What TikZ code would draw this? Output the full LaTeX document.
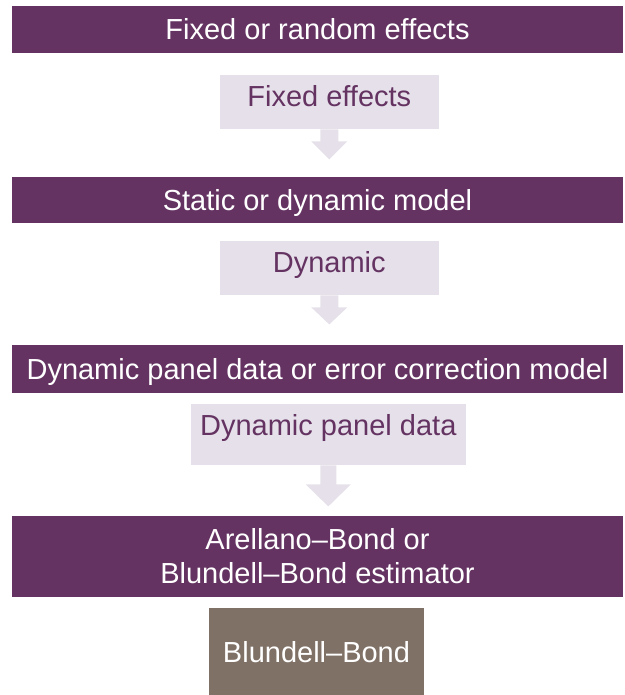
\documentclass[tikz,border=0pt]{standalone}
\usepackage{fontspec}
\setmainfont{Liberation Sans}

\definecolor{plum}{RGB}{100,51,98}
\definecolor{lilac}{RGB}{229,224,233}
\definecolor{taupe}{RGB}{128,113,102}

\begin{document}
\begin{tikzpicture}[x=1bp, y=-1bp,
    question/.style={fill=plum, text=white, inner sep=0pt, minimum width=611bp,
      text height=21bp, text depth=0pt, align=center,
      font=\fontsize{29bp}{34bp}\selectfont},
    answer/.style={fill=lilac, text=plum, inner sep=0pt, anchor=north,
      text height=31.5bp, font=\fontsize{29bp}{34bp}\selectfont},
    result/.style={fill=taupe, text=white, inner sep=0pt,
      text height=21bp, text depth=0pt, font=\fontsize{29bp}{34bp}\selectfont},
    pointer/.style={fill=lilac}]

  \useasboundingbox (0,0) rectangle (625,695);

  % questions down the left, answers under each one
  \node[question, minimum height=47bp] (q1) at (317.5,29.5) {Fixed or random effects};
  \node[answer, minimum width=218.7bp, text depth=22.5bp] (a1) at (329.3,75) {Fixed effects};
  \fill[pointer] (a1.south) ++(-9,0) -- ++(0,12) -- ++(-9,0) -- ++(18,18)
    -- ++(18,-18) -- ++(-9,0) -- ++(0,-12) -- cycle;

  \node[question, minimum height=46bp] (q2) at (317.5,200) {Static or dynamic model};
  \node[answer, minimum width=218.7bp, text depth=22.5bp] (a2) at (329.3,241) {Dynamic};
  \fill[pointer] (a2.south) ++(-9,0) -- ++(0,12) -- ++(-9,0) -- ++(18,17)
    -- ++(18,-17) -- ++(-9,0) -- ++(0,-12) -- cycle;

  \node[question, minimum height=48bp] (q3) at (317.5,369) {Dynamic panel data or error correction model};
  \node[answer, minimum width=275bp, text depth=29.5bp] (a3) at (328.3,404) {Dynamic panel data};
  \fill[pointer] (a3.south) ++(-8,0) -- ++(0,19) -- ++(-14.5,0) -- ++(22.5,22)
    -- ++(22.5,-22) -- ++(-14.5,0) -- ++(0,-19) -- cycle;

  \node[question, minimum height=81bp, text height={}, text depth={}] (q4) at (317.5,556.5)
    {Arellano--Bond or\\Blundell--Bond estimator};

  \node[result, minimum width=215bp, minimum height=87bp] (res) at (316.5,651.5) {Blundell--Bond};
\end{tikzpicture}
\end{document}
